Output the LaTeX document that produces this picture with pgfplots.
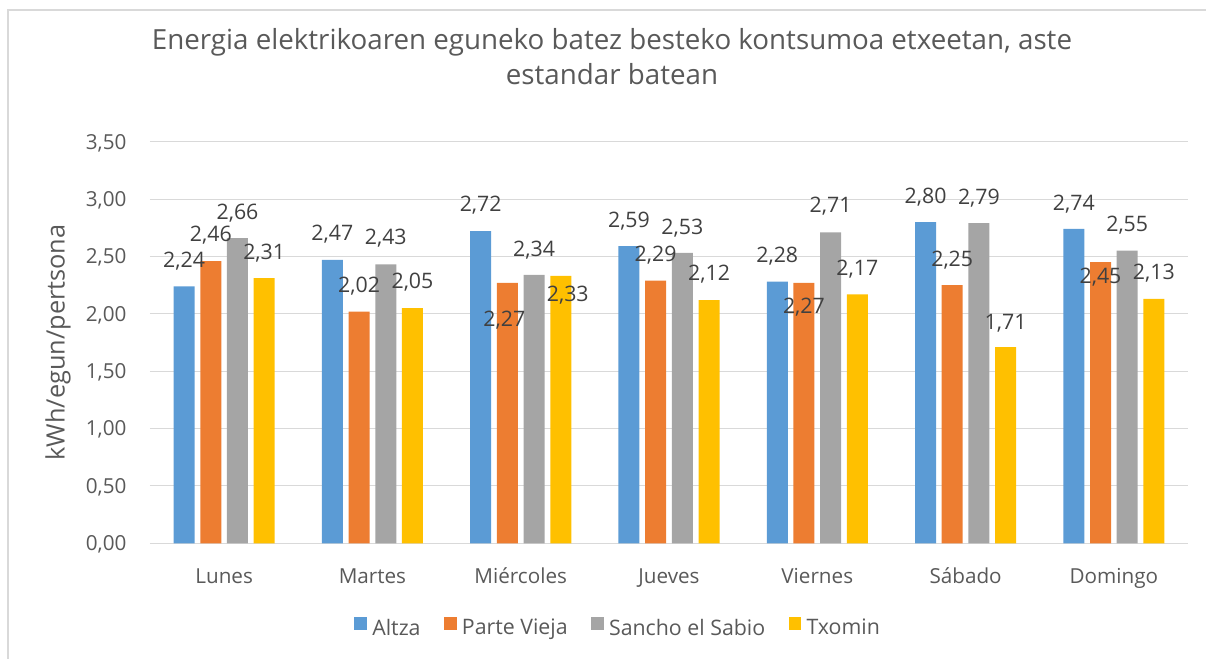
\documentclass[border=0pt]{standalone}
\usepackage{pgfplots}
\pgfplotsset{compat=1.18}
\usepackage{pgfplotstable}
\usepackage{fontspec}
\setmainfont{Open Sans}
\definecolor{cA}{HTML}{5B9BD5}
\definecolor{cB}{HTML}{ED7D31}
\definecolor{cC}{HTML}{A5A5A5}
\definecolor{cD}{HTML}{FFC000}
\definecolor{gridc}{HTML}{D9D9D9}
\definecolor{txt}{HTML}{595959}
\definecolor{lbl}{HTML}{404040}

% x = category index, y = value, dy/dx = label offset in px
\pgfplotstableread{
x y dy dx
0 2.24 25 0
1 2.47 26 0
2 2.72 26 0
3 2.59 25 0
4 2.28 26 0
5 2.80 25 0
6 2.74 25 0
}\altza
\pgfplotstableread{
x y dy dx
0 2.46 26 0
1 2.02 25 0
2 2.27 -37 -3
3 2.29 25 0
4 2.27 -24 0
5 2.25 25 0
6 2.45 -15 0
}\vieja
\pgfplotstableread{
x y dy dx
0 2.66 25 0
1 2.43 26 0
2 2.34 25 0
3 2.53 25 0
4 2.71 26 0
5 2.79 25 0
6 2.55 26 0
}\sancho
\pgfplotstableread{
x y dy dx
0 2.31 25 0
1 2.05 26 0
2 2.33 -19 7
3 2.12 26 0
4 2.17 25 0
5 1.71 24 0
6 2.13 26 0
}\txomin

\pgfplotsset{
  mybar/.style={ybar, bar width=0.1416, fill=#1, draw=none,
    legend image code/.code={\path[fill=#1] (0pt,-1.2pt) rectangle (9.5pt,8.3pt);}},
  mylbl/.style={draw=none, mark=none, forget plot,
    point meta=\thisrow{y},
    nodes near coords={\pgfmathprintnumber{\pgfplotspointmeta}},
    every node near coord/.style={font=\fontsize{16}{19}\selectfont, text=lbl, anchor=center, inner sep=0pt}},
}

\begin{document}
\begin{tikzpicture}[x=0.75pt,y=0.75pt]
\path[use as bounding box] (-150,-115.7) rectangle (1056,543.3);
\draw[gridc, line width=1.2] (-142,-120) -- (-142,533.3) -- (1060,533.3);
\begin{axis}[
  at={(0,0)}, anchor=south west,
  scale only axis, width=778.5pt, height=301.2pt,
  xmin=-0.5, xmax=6.5, ymin=0, ymax=3.5,
  enlargelimits=false, clip=false,
  axis line style={draw=none},
  major tick length=0pt,
  ytick={0,0.5,1,1.5,2,2.5,3,3.5},
  xtick={0,1,2,3,4,5,6},
  xticklabels={Lunes,Martes,Miércoles,Jueves,Viernes,Sábado,Domingo},
  ymajorgrids, grid style={draw=gridc, line width=0.75pt},
  /pgf/number format/assume math mode=true,
  /pgf/number format/.cd, use comma, fixed, fixed zerofill, precision=2, /pgfplots/.cd,
  yticklabel style={font=\fontsize{15.5}{18}\selectfont, text=txt, anchor=base east, inner sep=0pt, xshift=-17.5pt, yshift=-5.5pt},
  xticklabel style={font=\fontsize{15.5}{18}\selectfont, text=txt, anchor=base, inner sep=0pt, yshift=-29.8pt},
  ylabel={kWh/egun/pertsona},
  every axis y label/.style={at={(rel axis cs:-0.0886,0.5)}, rotate=90, anchor=center,
    font=\fontsize{19}{22}\selectfont, text=txt},
  legend columns=-1,
  legend style={draw=none, fill=none, at={(0.4513,-0.2109)}, anchor=center,
    font=\fontsize{16}{19}\selectfont, text=txt,
    /tikz/every odd column/.append style={column sep=2pt},
    /tikz/every even column/.append style={column sep=15.5pt}},
]
\addplot[mybar=cA, bar shift=-0.27] table[x=x,y=y] {\altza};
\addplot[mybar=cB, bar shift=-0.09] table[x=x,y=y] {\vieja};
\addplot[mybar=cC, bar shift=0.09] table[x=x,y=y] {\sancho};
\addplot[mybar=cD, bar shift=0.27] table[x=x,y=y] {\txomin};
\legend{Altza,Parte Vieja,Sancho el Sabio,Txomin}
\addplot[mylbl] table[x expr=\thisrow{x}-0.27+\thisrow{dx}/148.3, y expr=\thisrow{y}+\thisrow{dy}/114.74] {\altza};
\addplot[mylbl] table[x expr=\thisrow{x}-0.09+\thisrow{dx}/148.3, y expr=\thisrow{y}+\thisrow{dy}/114.74] {\vieja};
\addplot[mylbl] table[x expr=\thisrow{x}+0.09+\thisrow{dx}/148.3, y expr=\thisrow{y}+\thisrow{dy}/114.74] {\sancho};
\addplot[mylbl] table[x expr=\thisrow{x}+0.27+\thisrow{dx}/148.3, y expr=\thisrow{y}+\thisrow{dy}/114.74] {\txomin};
\end{axis}
\node[anchor=base, text=txt, font=\fontsize{20.8}{24}\selectfont] at (462,493.3) {Energia elektrikoaren eguneko batez besteko kontsumoa etxeetan, aste};
\node[anchor=base, text=txt, font=\fontsize{20.8}{24}\selectfont] at (462,458.3) {estandar batean};
\end{tikzpicture}
\end{document}
